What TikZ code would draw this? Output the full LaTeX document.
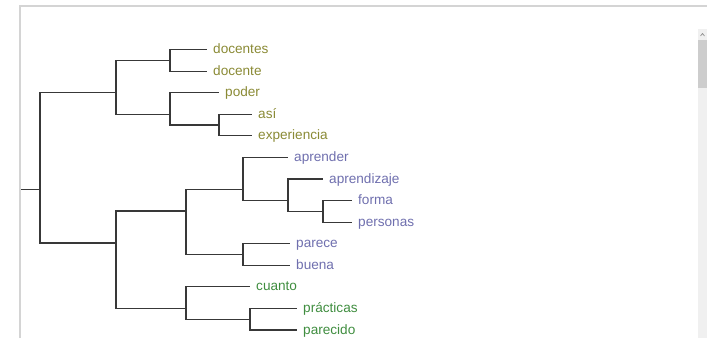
\documentclass[tikz,border=0pt]{standalone}
\usepackage{fontspec}
\setmainfont{Liberation Sans}
\usetikzlibrary{positioning}
\definecolor{Olive}{HTML}{8A8A35}
\definecolor{Lilac}{HTML}{6F6FAE}
\definecolor{Leaf}{HTML}{3F8D3F}
\definecolor{Ink}{HTML}{383838}
\definecolor{Frame}{HTML}{D4D4D4}
\definecolor{Track}{HTML}{F0F0F0}
\definecolor{Thumb}{HTML}{CDCDCD}
\begin{document}
\begin{tikzpicture}[x=1pt,y=-1pt,
      word/.style={anchor=west,inner xsep=6pt,inner ysep=0pt,text height=8pt,
        text depth=0pt,font=\fontsize{13.6}{15}\selectfont},
      branch/.style={draw=Ink,line width=1.1pt}
    ]
      \useasboundingbox (0,0) rectangle (707,338);
      % window frame and scroll bar
      \draw[Frame,line width=2pt] (20,338) -- (20,6) -- (707,6);
      \fill[Track] (698,29) rectangle (707,338);
      \fill[Thumb] (698,40) rectangle (707,88);
      \draw[gray,line width=0.6pt] (700.5,36) -- (702.5,33.5) -- (704.5,36);
      % leaves
      \node[word,text=Olive] (docentes) at (207,49.5) {docentes};
      \node[word,text=Olive] (docente) at (207,71.1) {docente};
      \node[word,text=Olive] (poder) at (219,92.7) {poder};
      \node[word,text=Olive] (asi) at (252,114.2) {así};
      \node[word,text=Olive] (experiencia) at (252,135.8) {experiencia};
      \node[word,text=Lilac] (aprender) at (288,157.4) {aprender};
      \node[word,text=Lilac] (aprendizaje) at (323,179.0) {aprendizaje};
      \node[word,text=Lilac] (forma) at (352,200.6) {forma};
      \node[word,text=Lilac] (personas) at (352,222.1) {personas};
      \node[word,text=Lilac] (parece) at (290,243.7) {parece};
      \node[word,text=Lilac] (buena) at (290,265.3) {buena};
      \node[word,text=Leaf] (cuanto) at (250,286.9) {cuanto};
      \node[word,text=Leaf] (practicas) at (297,308.5) {prácticas};
      \node[word,text=Leaf] (parecido) at (297,330.0) {parecido};
      % merge points
      \coordinate (stub) at (21,189.6);
      \coordinate (root) at (40,189.6);
      \coordinate (upper) at (116,92.7);
      \coordinate (jdoc) at (170,60.3);
      \coordinate (jpod) at (170,114.2);
      \coordinate (jasi) at (219,125.0);
      \coordinate (lower) at (116,243.0);
      \coordinate (jlil) at (186,211.0);
      \coordinate (japr) at (243,189.8);
      \coordinate (japz) at (288,200.6);
      \coordinate (jfor) at (323,211.4);
      \coordinate (jpar) at (243,254.5);
      \coordinate (jgrn) at (186,308.5);
      \coordinate (jpra) at (250,319.3);
      % branches
      \draw[branch] (stub) -- (root);
      \draw[branch] (root) |- (upper);
      \draw[branch] (root) |- (lower);
      \draw[branch] (upper) |- (jdoc);
      \draw[branch] (upper) |- (jpod);
      \draw[branch] (jdoc) |- (docentes);
      \draw[branch] (jdoc) |- (docente);
      \draw[branch] (jpod) |- (poder);
      \draw[branch] (jpod) |- (jasi);
      \draw[branch] (jasi) |- (asi);
      \draw[branch] (jasi) |- (experiencia);
      \draw[branch] (lower) |- (jlil);
      \draw[branch] (lower) |- (jgrn);
      \draw[branch] (jlil) |- (japr);
      \draw[branch] (jlil) |- (jpar);
      \draw[branch] (japr) |- (aprender);
      \draw[branch] (japr) |- (japz);
      \draw[branch] (japz) |- (aprendizaje);
      \draw[branch] (japz) |- (jfor);
      \draw[branch] (jfor) |- (forma);
      \draw[branch] (jfor) |- (personas);
      \draw[branch] (jpar) |- (parece);
      \draw[branch] (jpar) |- (buena);
      \draw[branch] (jgrn) |- (cuanto);
      \draw[branch] (jgrn) |- (jpra);
      \draw[branch] (jpra) |- (practicas);
      \draw[branch] (jpra) |- (parecido);
    \end{tikzpicture}
\end{document}
